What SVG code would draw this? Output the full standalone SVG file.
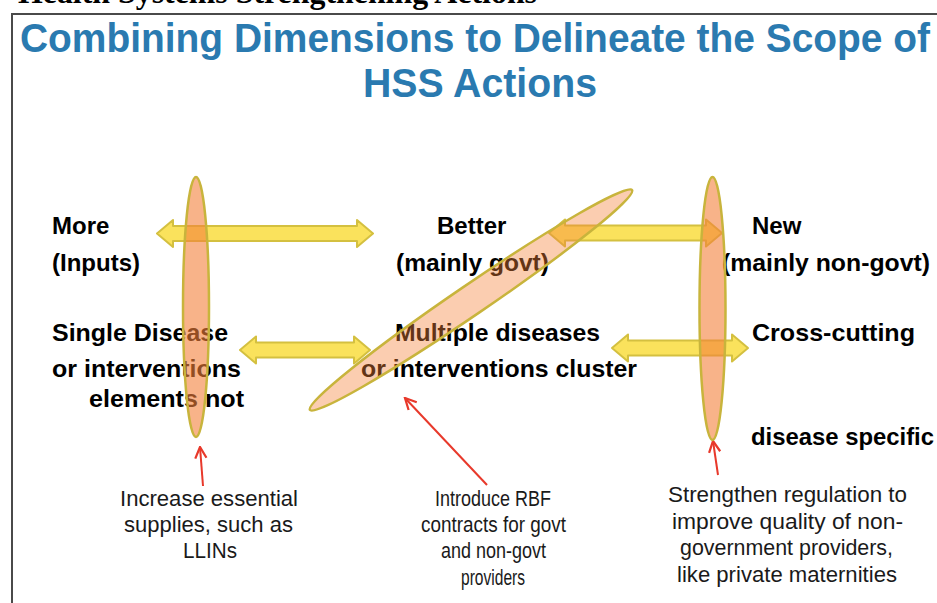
<svg xmlns="http://www.w3.org/2000/svg" width="937" height="603" viewBox="0 0 937 603">
<defs>
<style>
.hdr{font-family:"Liberation Serif","Times New Roman",serif;font-weight:bold;font-size:32px;fill:#000}
.title{font-family:"Liberation Sans",Arial,sans-serif;font-weight:bold;font-size:41px;fill:#2A7AB0}
.lbl{font-family:"Liberation Sans",Arial,sans-serif;font-weight:bold;font-size:24px;fill:#000}
.note{font-family:"Liberation Sans",Arial,sans-serif;font-size:22px;fill:#1a1a1a;text-anchor:middle}
.dbl{fill:#FAE25C;stroke:#D4C040;stroke-width:2;stroke-linejoin:round}
.oval{fill:#F4813A;fill-opacity:0.6;stroke:#C8B43C;stroke-width:2.5}
.oval2{fill:#F4813A;fill-opacity:0.4;stroke:#C8B43C;stroke-width:2.5}
.red{stroke:#E8392B;stroke-width:2;fill:none;marker-end:url(#rh)}
</style>
<marker id="rh" viewBox="0 0 10 10" refX="9" refY="5" markerWidth="7" markerHeight="7" markerUnits="strokeWidth" orient="auto">
<path d="M1,1 L9,5 L1,9" fill="none" stroke="#E8392B" stroke-width="1.6"/>
</marker>
</defs>
<rect width="937" height="603" fill="#fff"/>
<text class="hdr" x="18" y="3" textLength="519" lengthAdjust="spacingAndGlyphs">Health Systems Strengthening Actions</text>
<path d="M12,603 L12,14 L937,14" fill="none" stroke="#4a4a4a" stroke-width="2"/>
<g id="title">
<text class="title" x="20" y="52" textLength="910" lengthAdjust="spacingAndGlyphs">Combining Dimensions to Delineate the Scope of</text>
<text class="title" x="363" y="97" textLength="234" lengthAdjust="spacingAndGlyphs">HSS Actions</text>
</g>
<g id="more"><text class="lbl" x="52" y="234">More</text><text class="lbl" x="52" y="271">(Inputs)</text></g>
<g id="better"><text class="lbl" x="437" y="234">Better</text><text class="lbl" x="396" y="271" textLength="153" lengthAdjust="spacingAndGlyphs">(mainly govt)</text></g>
<g id="new"><text class="lbl" x="752" y="234">New</text><text class="lbl" x="722" y="271" textLength="208" lengthAdjust="spacingAndGlyphs">(mainly non-govt)</text></g>
<g id="single"><text class="lbl" x="52" y="341" textLength="176" lengthAdjust="spacingAndGlyphs">Single Disease</text><text class="lbl" x="52" y="377" textLength="189" lengthAdjust="spacingAndGlyphs">or interventions</text><text class="lbl" x="89" y="407" textLength="155" lengthAdjust="spacingAndGlyphs">elements not</text></g>
<g id="multiple"><text class="lbl" x="395" y="341" textLength="205" lengthAdjust="spacingAndGlyphs">Multiple diseases</text><text class="lbl" x="361" y="377" textLength="276" lengthAdjust="spacingAndGlyphs">or interventions cluster</text></g>
<g id="cross"><text class="lbl" x="752" y="341" textLength="163" lengthAdjust="spacingAndGlyphs">Cross-cutting</text></g>
<g id="specific"><text class="lbl" x="751" y="445" textLength="183" lengthAdjust="spacingAndGlyphs">disease specific</text></g>
<g id="connectors">
<path class="dbl" d="M157,233.5 L173,220 L173,226 L357,226 L357,220 L373,233.5 L357,247 L357,241 L173,241 L173,247 Z"/>
<path class="dbl" d="M549,233 L565,219.5 L565,225.5 L706,225.5 L706,219.5 L722,233 L706,246.5 L706,240.5 L565,240.5 L565,246.5 Z"/>
<path class="dbl" d="M240,350 L256,336.5 L256,342.5 L354,342.5 L354,336.5 L370,350 L354,363.5 L354,357.5 L256,357.5 L256,363.5 Z"/>
<path class="dbl" d="M612,348 L628,334.5 L628,340.5 L732,340.5 L732,334.5 L748,348 L732,361.5 L732,355.5 L628,355.5 L628,361.5 Z"/>
<line class="red" x1="203" y1="486" x2="200" y2="447"/>
<line class="red" x1="487" y1="485" x2="405" y2="398"/>
<line class="red" x1="718" y1="475" x2="713" y2="441"/>
</g>
<g id="oval-left"><ellipse class="oval" cx="196" cy="307" rx="13" ry="130"/></g>
<g id="oval-diag"><ellipse class="oval2" cx="471" cy="300" rx="195" ry="15" transform="rotate(-34.3 471 300)"/></g>
<g id="oval-right"><ellipse class="oval" cx="712.5" cy="308.5" rx="13" ry="131.5"/></g>
<g id="note-left"><text class="note" x="209" y="506" textLength="178" lengthAdjust="spacingAndGlyphs">Increase essential</text><text class="note" x="208.5" y="532" textLength="169" lengthAdjust="spacingAndGlyphs">supplies, such as</text><text class="note" x="210" y="558" textLength="54" lengthAdjust="spacingAndGlyphs">LLINs</text></g>
<g id="note-mid"><text class="note" x="493" y="506" textLength="116" lengthAdjust="spacingAndGlyphs">Introduce RBF</text><text class="note" x="493.5" y="532" textLength="145" lengthAdjust="spacingAndGlyphs">contracts for govt</text><text class="note" x="493.5" y="558" textLength="105" lengthAdjust="spacingAndGlyphs">and non-govt</text><text class="note" x="493" y="585" textLength="64" lengthAdjust="spacingAndGlyphs">providers</text></g>
<g id="note-right"><text class="note" x="787.5" y="502" textLength="239" lengthAdjust="spacingAndGlyphs">Strengthen regulation to</text><text class="note" x="787.5" y="529" textLength="231" lengthAdjust="spacingAndGlyphs">improve quality  of non-</text><text class="note" x="786.5" y="555" textLength="213" lengthAdjust="spacingAndGlyphs">government providers,</text><text class="note" x="787" y="582" textLength="220" lengthAdjust="spacingAndGlyphs">like private maternities</text></g>
</svg>
